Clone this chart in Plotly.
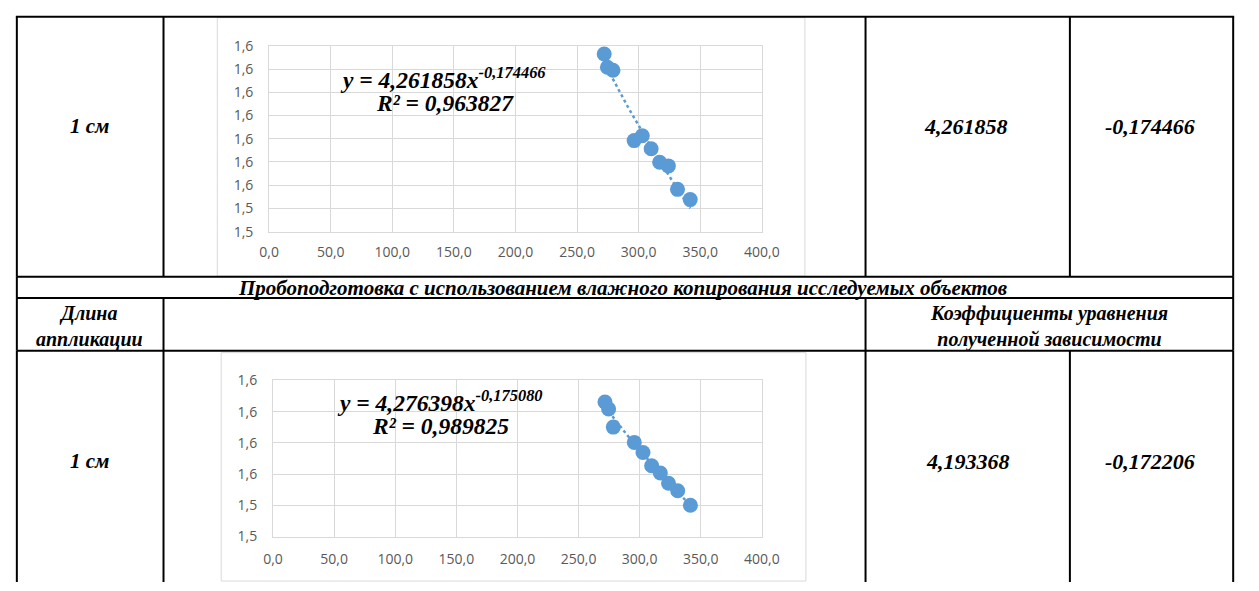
import numpy as np
import plotly.graph_objects as go

W, H = 1259, 591

# ---------------- data ----------------
x_dry = [272.0, 274.6, 279.1, 296.3, 302.9, 310.1, 317.0, 324.1, 331.5, 341.8]
y_dry = [1.6065, 1.6008, 1.5995, 1.5692, 1.5713, 1.5657, 1.5599, 1.5583, 1.5482, 1.5438]

x_wet = [271.6, 274.6, 278.4, 295.6, 302.7, 309.8, 316.9, 323.6, 331.1, 341.5]
y_wet = [1.6062, 1.6017, 1.5901, 1.5803, 1.5738, 1.5653, 1.5607, 1.5541, 1.5493, 1.5400]

fit_dry = (4.261858, -0.174466)
fit_wet = (4.276398, -0.175080)
eq_dry = ["y = 4,261858x<sup>-0,174466</sup>", "R² = 0,963827"]
eq_wet = ["y = 4,276398x<sup>-0,175080</sup>", "R² = 0,989825"]

x_ticks = [0, 50, 100, 150, 200, 250, 300, 350, 400]
x_tick_labels = ["0,0", "50,0", "100,0", "150,0", "200,0", "250,0", "300,0", "350,0", "400,0"]
y1_ticks = [1.53, 1.54, 1.55, 1.56, 1.57, 1.58, 1.59, 1.60, 1.61]
y1_tick_labels = ["1,5", "1,5", "1,6", "1,6", "1,6", "1,6", "1,6", "1,6", "1,6"]
y2_ticks = [1.52, 1.54, 1.56, 1.58, 1.60, 1.62]
y2_tick_labels = ["1,5", "1,5", "1,6", "1,6", "1,6", "1,6"]

row_label = "1 см"
coef_a = ["4,261858", "4,193368"]
coef_b = ["-0,174466", "-0,172206"]
title_row = "Пробоподготовка с использованием влажного копирования исследуемых объектов"
hdr_left = ["Длина", "аппликации"]
hdr_right = ["Коэффициенты уравнения", "полученной зависимости"]

# ---------------- helpers ----------------
def PX(px):
    return px / W

def PY(py):
    return 1 - py / H

BLUE = "#5B9BD5"
GRID = "#D9D9D9"
TXT = "#595959"
SERIF = "Liberation Serif"
SANS = "Open Sans"

fig = go.Figure()

def trend(xs, coef):
    xx = np.linspace(min(xs), max(xs), 60)
    return xx, coef[0] * xx ** coef[1]

tx, ty = trend(x_dry, fit_dry)
fig.add_trace(go.Scatter(x=tx, y=ty, mode="lines", line=dict(color=BLUE, width=2.5, dash="dot"),
                         xaxis="x", yaxis="y", hoverinfo="skip"))
fig.add_trace(go.Scatter(x=x_dry, y=y_dry, mode="markers", marker=dict(color=BLUE, size=15),
                         xaxis="x", yaxis="y"))
tx2, ty2 = trend(x_wet, fit_wet)
fig.add_trace(go.Scatter(x=tx2, y=ty2, mode="lines", line=dict(color=BLUE, width=2.5, dash="dot"),
                         xaxis="x2", yaxis="y2", hoverinfo="skip"))
fig.add_trace(go.Scatter(x=x_wet, y=y_wet, mode="markers", marker=dict(color=BLUE, size=15),
                         xaxis="x2", yaxis="y2"))

axis_common = dict(showgrid=True, gridcolor=GRID, gridwidth=1, zeroline=False,
                   showline=True, mirror=True, linecolor=GRID, linewidth=1,
                   ticks="", tickfont=dict(family=SANS, size=14, color=TXT))

fig.update_layout(
    width=W, height=H, autosize=False,
    margin=dict(l=0, r=0, t=0, b=0),
    paper_bgcolor="white", plot_bgcolor="white",
    showlegend=False,
    xaxis=dict(domain=[PX(265), PX(769)], range=[0, 400], anchor="y",
               tickvals=x_ticks, ticktext=x_tick_labels, ticklabelstandoff=8, **axis_common),
    yaxis=dict(domain=[PY(229), PY(37)], range=[1.53, 1.61], anchor="x",
               tickvals=y1_ticks, ticktext=y1_tick_labels, ticklabelstandoff=12, **axis_common),
    xaxis2=dict(domain=[PX(269), PX(769)], range=[0, 400], anchor="y2",
                tickvals=x_ticks, ticktext=x_tick_labels, ticklabelstandoff=10, **axis_common),
    yaxis2=dict(domain=[PY(544), PY(382.7)], range=[1.52, 1.62], anchor="x2",
                tickvals=y2_ticks, ticktext=y2_tick_labels, ticklabelstandoff=12, **axis_common),
)

shapes = []

def hline(y, x0, x1, color="black", w=2):
    shapes.append(dict(type="line", xref="paper", yref="paper", x0=PX(x0), x1=PX(x1),
                       y0=PY(y), y1=PY(y), line=dict(color=color, width=w), layer="above"))

def vline(x, y0, y1, color="black", w=2):
    shapes.append(dict(type="line", xref="paper", yref="paper", x0=PX(x), x1=PX(x),
                       y0=PY(y0), y1=PY(y1), line=dict(color=color, width=w), layer="above"))

# chart frames (light gray)
shapes.append(dict(type="rect", xref="paper", yref="paper", x0=PX(212), x1=PX(813),
                   y0=PY(275), y1=PY(8), line=dict(color=GRID, width=1), layer="below"))
shapes.append(dict(type="rect", xref="paper", yref="paper", x0=PX(216), x1=PX(814),
                   y0=PY(590), y1=PY(354), line=dict(color=GRID, width=1), layer="below"))

# table grid
L, R, T = 7, 1251, 7
hline(T, L - 1, R + 1)
hline(275.5, L, R)
hline(297.5, L, R)
hline(352, L, R)
for x in (L, 157, 875, 1084, R):
    vline(x, T, 275.5)
for x in (L, R):
    vline(x, 275.5, 297.5)
for x in (L, 157, 875, R):
    vline(x, 297.5, 352)
for x in (L, 157, 875, 1084, R):
    vline(x, 352, 591)

fig.update_layout(shapes=shapes)

ann = []

def text(x, y, s, size=18, family=SERIF, color="black"):
    ann.append(dict(xref="paper", yref="paper", x=PX(x), y=PY(y), text=s, showarrow=False,
                    xanchor="center", yanchor="middle", align="center",
                    font=dict(family=family, size=size, color=color)))

def bi(s):
    return "<b><i>" + s + "</i></b>"

# table texts
text(81, 120, bi(row_label), 21)
text(81, 466, bi(row_label), 21)
text(978, 120, bi(coef_a[0]), 22)
text(1166, 120, bi(coef_b[0]), 22)
text(980, 466, bi(coef_a[1]), 22)
text(1166, 466, bi(coef_b[1]), 22)
text(627, 287, bi(title_row), 21)
text(81, 327, bi("<br>".join(hdr_left)), 20)
text(1063, 327, bi("<br>".join(hdr_right)), 20)

# trendline equations
text(443, 70, bi(eq_dry[0]), 23.5)
text(445, 96, bi(eq_dry[1]), 23.5)
text(440, 404, bi(eq_wet[0]), 23.5)
text(440, 430, bi(eq_wet[1]), 23.5)

fig.update_layout(annotations=ann)

fig.write_html("out.html", config={"displayModeBar": False},
               post_script="document.body.style.margin='0';")
